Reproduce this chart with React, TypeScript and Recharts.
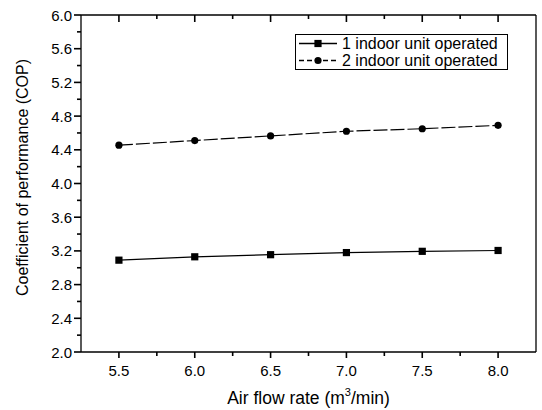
import React from 'react';
import { LineChart, Line, XAxis, YAxis, Legend, Label } from 'recharts';

const airFlow = [5.5, 6.0, 6.5, 7.0, 7.5, 8.0];
const cop1 = [3.09, 3.13, 3.155, 3.18, 3.195, 3.205];
const cop2 = [4.455, 4.51, 4.565, 4.62, 4.65, 4.69];
const seriesNames = ['1 indoor unit operated', '2 indoor unit operated'];
const xMajorTicks = [5.5, 6.0, 6.5, 7.0, 7.5, 8.0];
const xMinorTicks = [5.75, 6.25, 6.75, 7.25, 7.75];
const yMajorTicks = [2.0, 2.4, 2.8, 3.2, 3.6, 4.0, 4.4, 4.8, 5.2, 5.6, 6.0];
const yMinorTicks = [2.2, 2.6, 3.0, 3.4, 3.8, 4.2, 4.6, 5.0, 5.4, 5.8];
const xLabel = 'Air flow rate (m';
const yLabel = 'Coefficient of performance (COP)';

const data = airFlow.map((x, i) => ({ x, s1: cop1[i], s2: cop2[i] }));
const xTicks = [...xMajorTicks, ...xMinorTicks].sort((a, b) => a - b);
const yTicks = [...yMajorTicks, ...yMinorTicks].sort((a, b) => a - b);

const FONT = '"Liberation Sans", Arial, sans-serif';
const TW = 1.6;
const isMajor = (v: number, arr: number[]) => arr.some((m) => Math.abs(m - v) < 1e-6);

const LeftTick = (p: any) => {
  const x = Number(p.x);
  const y = Number(p.y);
  const major = isMajor(Number(p.payload.value), yMajorTicks);
  const len = major ? 7 : 4;
  return (
    <g>
      <path d={`M${x - len},${y}H${x}`} stroke="#000" strokeWidth={TW} fill="none" />
      {major && (
        <text x={x - 9} y={y} textAnchor="end" dominantBaseline="central" fontSize={15} fontFamily={FONT} fill="#000" stroke="none">
          {Number(p.payload.value).toFixed(1)}
        </text>
      )}
    </g>
  );
};

const RightTick = (p: any) => {
  const x = Number(p.x);
  const y = Number(p.y);
  const major = isMajor(Number(p.payload.value), yMajorTicks);
  const len = major ? 7 : 4;
  return <path d={`M${x - len},${y}H${x}`} stroke="#000" strokeWidth={TW} fill="none" />;
};

const BottomTick = (p: any) => {
  const x = Number(p.x);
  const y = Number(p.y);
  const major = isMajor(Number(p.payload.value), xMajorTicks);
  const len = major ? 6 : 4;
  return (
    <g>
      <path d={`M${x},${y}V${y + len}`} stroke="#000" strokeWidth={TW} fill="none" />
      {major && (
        <text x={x} y={y + 18} textAnchor="middle" dominantBaseline="central" fontSize={15} fontFamily={FONT} fill="#000" stroke="none">
          {Number(p.payload.value).toFixed(1)}
        </text>
      )}
    </g>
  );
};

const TopTick = (p: any) => {
  const x = Number(p.x);
  const y = Number(p.y);
  const major = isMajor(Number(p.payload.value), xMajorTicks);
  const len = major ? 7 : 4;
  return <path d={`M${x},${y}V${y + len}`} stroke="#000" strokeWidth={TW} fill="none" />;
};

const SquareDot = (p: any) => {
  const { cx, cy, index } = p;
  return <rect key={`sq-${index}`} x={cx - 3.6} y={cy - 3.6} width={7.2} height={7.2} fill="#000" />;
};
const CircleDot = (p: any) => {
  const { cx, cy, index } = p;
  return <circle key={`ci-${index}`} cx={cx} cy={cy} r={3.6} fill="#000" />;
};

const LegendBox = () => (
  <div
    style={{
      border: '1px solid #000',
      background: '#fff',
      padding: '0px 9px 0px 1px',
      fontFamily: FONT,
      fontSize: 16,
      lineHeight: '17px',
      color: '#000',
      whiteSpace: 'nowrap',
    }}
  >
    {seriesNames.map((name, i) => (
      <div key={name} style={{ display: 'flex', alignItems: 'center', height: 17 }}>
        <svg width={42} height={17} style={{ display: 'block' }}>
          <line x1={2} x2={40} y1={8.5} y2={8.5} stroke="#000" strokeWidth={1.3} strokeDasharray={i === 1 ? '5 3' : undefined} />
          {i === 0 ? <rect x={17.4} y={4.9} width={7.2} height={7.2} fill="#000" /> : <circle cx={21} cy={8.5} r={3.6} fill="#000" />}
        </svg>
        <span style={{ marginLeft: 3 }}>{name}</span>
      </div>
    ))}
  </div>
);

export default function App() {
  return (
    <div style={{ position: 'absolute', left: 0, top: 0, width: 542, height: 410, background: '#fff' }}>
      <LineChart width={542} height={410} data={data} margin={{ top: 14, right: 5, left: 0, bottom: 0 }}>
        <XAxis
          dataKey="x"
          type="number"
          domain={[5.25, 8.25]}
          ticks={xTicks}
          interval={0}
          tickSize={0}
          tickMargin={0}
          tickLine={false}
          tick={<BottomTick />}
          axisLine={{ stroke: '#000', strokeWidth: 1.3 }}
          height={58}
        >
          <Label
            content={(lp: any) => {
              const vb = lp.viewBox;
              return (
                <text x={vb.x + vb.width / 2} y={vb.y + 46} textAnchor="middle" dominantBaseline="central" fontSize={17.5} fontFamily={FONT} fill="#000">
                  {xLabel}
                  <tspan dy={-6} fontSize={11}>3</tspan>
                  <tspan dy={6}>/min)</tspan>
                </text>
              );
            }}
          />
        </XAxis>
        <XAxis
          xAxisId="top"
          orientation="top"
          dataKey="x"
          type="number"
          domain={[5.25, 8.25]}
          ticks={xTicks}
          interval={0}
          tickSize={0}
          tickMargin={0}
          tickLine={false}
          tick={<TopTick />}
          axisLine={{ stroke: '#000', strokeWidth: 1.3 }}
          height={1}
        />
        <YAxis
          type="number"
          domain={[2, 6]}
          ticks={yTicks}
          interval={0}
          tickSize={0}
          tickMargin={0}
          tickLine={false}
          tick={<LeftTick />}
          axisLine={{ stroke: '#000', strokeWidth: 1.3 }}
          width={81}
        >
          <Label
            content={(lp: any) => {
              const vb = lp.viewBox;
              const cy = vb.y + vb.height / 2 - 6;
              return (
                <text x={22} y={cy} textAnchor="middle" dominantBaseline="central" fontSize={16} fontFamily={FONT} fill="#000" transform={`rotate(-90 22 ${cy})`}>
                  {yLabel}
                </text>
              );
            }}
          />
        </YAxis>
        <YAxis
          yAxisId="right"
          orientation="right"
          type="number"
          domain={[2, 6]}
          ticks={yTicks}
          interval={0}
          tickSize={0}
          tickMargin={0}
          tickLine={false}
          tick={<RightTick />}
          axisLine={{ stroke: '#000', strokeWidth: 1.3 }}
          width={1}
        />
        <Legend layout="vertical" align="center" verticalAlign="middle" content={<LegendBox />} wrapperStyle={{ left: 295, top: 34, width: 'auto', height: 'auto' }} />
        <Line dataKey="s1" name={seriesNames[0]} stroke="#000" strokeWidth={1.2} dot={<SquareDot />} isAnimationActive={false} />
        <Line dataKey="s2" name={seriesNames[1]} stroke="#000" strokeWidth={1.2} strokeDasharray="14 3" dot={<CircleDot />} isAnimationActive={false} />
      </LineChart>
    </div>
  );
}
